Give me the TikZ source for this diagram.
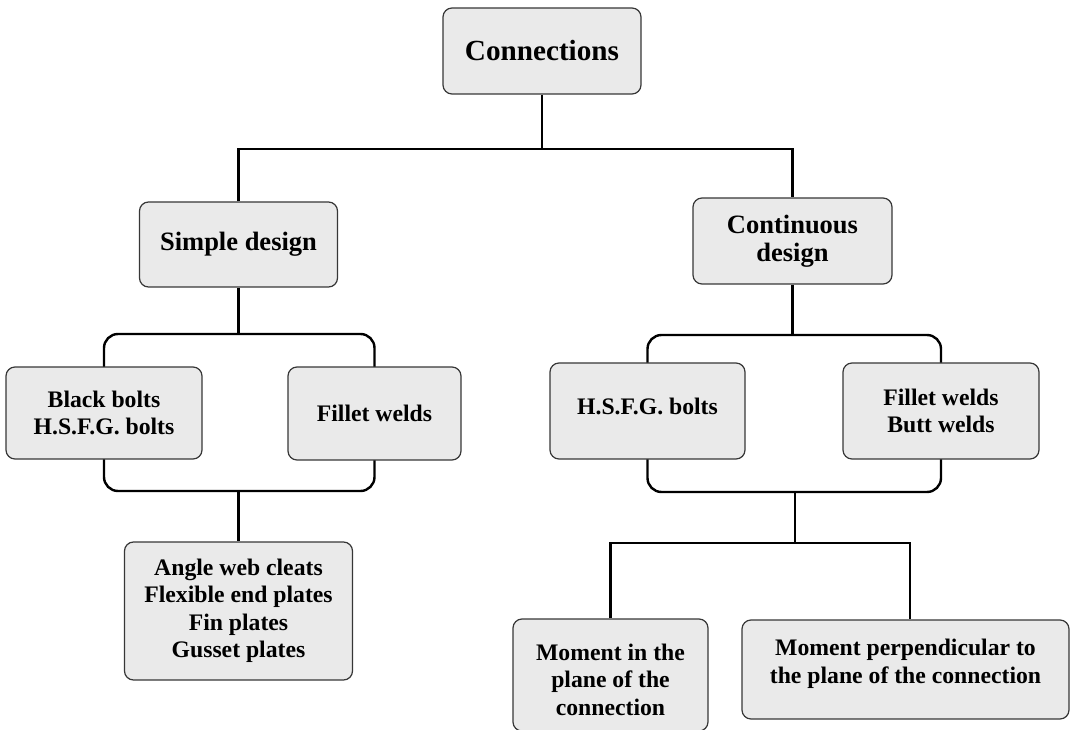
\documentclass[tikz,border=0pt]{standalone}
\usepackage{fontspec}
\setmainfont{Liberation Serif}
\usetikzlibrary{backgrounds}
\definecolor{boxfill}{RGB}{234,234,234}
\definecolor{boxline}{RGB}{55,55,55}
\begin{document}
\begin{tikzpicture}[x=1pt,y=-1pt,
  box/.style={draw=boxline, fill=boxfill, line width=1.2pt, rounded corners=9pt,
    inner sep=0pt, align=center, font=\bfseries\fontsize{23.7}{27.5}\selectfont},
  midbox/.style={box, font=\bfseries\fontsize{26.5}{28}\selectfont},
  conn/.style={line width=2.4pt, line join=miter}]
\useasboundingbox (0,0) rectangle (1072,730);
\node[box, minimum width=198pt, minimum height=86pt, font=\bfseries\fontsize{29.2}{34}\selectfont] (conn) at (542,51) {Connections};
\node[midbox, minimum width=198pt, minimum height=85pt] (simple) at (238.5,244.5) {Simple design};
\node[midbox, minimum width=199pt, minimum height=86pt] (cont) at (792.5,241) {Continuous\\design};
\node[box, minimum width=196pt, minimum height=92pt] (bb) at (104,413) {Black bolts\\H.S.F.G. bolts};
\node[box, minimum width=173pt, minimum height=93pt] (fw) at (374.5,413.5) {Fillet welds};
\node[box, minimum width=195pt, minimum height=96pt] (hsfg) at (647.5,411) {H.S.F.G. bolts\rule[-9pt]{0pt}{9pt}};
\node[box, minimum width=196pt, minimum height=96pt] (fb) at (941,411) {Fillet welds\\Butt welds};
\node[box, minimum width=228pt, minimum height=138pt] (angle) at (238.5,611) {Angle web cleats\\Flexible end plates\\Fin plates\\Gusset plates};
\node[box, minimum width=195pt, minimum height=112pt] (min) at (610.5,675) {\rule{0pt}{26pt}Moment in the\\plane of the\\connection};
\node[box, minimum width=327pt, minimum height=99pt] (perp) at (905.5,669.5) {Moment perpendicular to\\the plane of the connection\rule[-16pt]{0pt}{16pt}};

\coordinate (tb) at (542,149);
\draw[conn] (conn.south) -- (tb);
\draw[conn] (simple.north) |- (tb) -| (cont.north);

\coordinate (lbt) at (238.5,334);
\coordinate (lbb) at (238.5,491);
\draw[conn] (simple.south) -- (lbt);
\draw[conn] (lbb) -- (angle.north);

\coordinate (rbt) at (792.5,335);
\coordinate (rbb) at (795,492);
\coordinate (hb) at (795,543);
\coordinate (pd) at (910,543);
\draw[conn] (cont.south) -- (rbt);
\draw[conn] (rbb) -- (hb);
\draw[conn] (min.north) |- (pd) -- (pd |- perp.north);

\begin{scope}[on background layer]
\draw[conn, rounded corners=14pt] (bb.center |- lbt) rectangle (fw.center |- lbb);
\draw[conn, rounded corners=14pt] (hsfg.center |- rbt) rectangle (fb.center |- rbb);
\end{scope}
\end{tikzpicture}
\end{document}
